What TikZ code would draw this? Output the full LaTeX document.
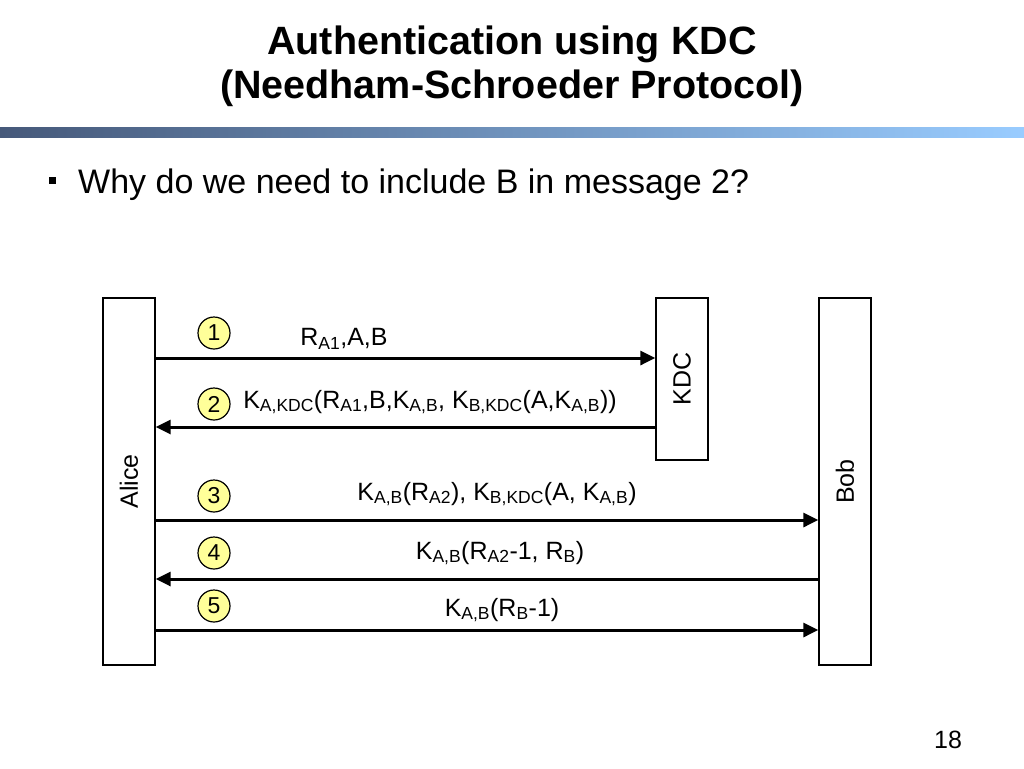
\documentclass[tikz,border=0pt]{standalone}
\usepackage{fontspec}
\setmainfont{Liberation Sans}
\usetikzlibrary{positioning,arrows.meta}
\definecolor{barleft}{HTML}{46597A}
\definecolor{barright}{HTML}{99CCFF}
\definecolor{numfill}{HTML}{FFFF99}

\begin{document}
\begin{tikzpicture}[x=1pt,y=-1pt,
    party/.style={draw, line width=1.3pt, minimum width=52pt, inner sep=0pt, font=\fontsize{25}{30}\selectfont},
    msg/.style={line width=3pt, -{Triangle[length=15pt,width=14pt]}},
    numcircle/.style={draw, circle, fill=numfill, line width=1.2pt, minimum size=32pt, inner sep=0pt, font=\fontsize{23}{28}\selectfont},
    msglabel/.style={font=\fontsize{25}{30}\selectfont, inner sep=0pt}]
        \useasboundingbox (0,0) rectangle (1024,768);
        % title
        \node[font=\bfseries\fontsize{39.5}{44}\selectfont, align=center] (title) at (512,66) {Authentication using KDC\\(Needham-Schroeder Protocol)};
        \shade[left color=barleft, right color=barright] (0,127) rectangle (1024,137);
        \fill (49,177) rectangle (56,184);
        \node[anchor=base west, font=\fontsize{34}{40}\selectfont, inner sep=0pt] (question) at (78,193) {Why do we need to include B in message 2?};
        % parties
        \node[party, minimum height=367pt] (alice) at (129,481.5) {\rotatebox{90}{Alice}};
        \node[party, minimum height=162pt] (kdc) at (682,379) {\rotatebox{90}{KDC}};
        \node[party, minimum height=367pt] (bob) at (845,481.5) {\rotatebox{90}{Bob}};
        % message heights
        \coordinate (m1) at (0,358);
        \coordinate (m2) at (0,427);
        \coordinate (m3) at (0,520);
        \coordinate (m4) at (0,579);
        \coordinate (m5) at (0,630);
        \draw[msg] (alice.east |- m1) -- (kdc.west |- m1);
        \draw[msg] (kdc.west |- m2) -- (alice.east |- m2);
        \draw[msg] (alice.east |- m3) -- (bob.west |- m3);
        \draw[msg] (bob.west |- m4) -- (alice.east |- m4);
        \draw[msg] (alice.east |- m5) -- (bob.west |- m5);
        % step numbers
        \node[numcircle] (n1) at (214,333) {1};
        \node[numcircle] (n2) at (214,404) {2};
        \node[numcircle] (n3) at (214,496) {3};
        \node[numcircle] (n4) at (214,553) {4};
        \node[numcircle] (n5) at (214,606) {5};
        % message contents
        \node[msglabel] (l1) at (344,339) {R\textsubscript{A1},A,B};
        \node[msglabel] (l2) at (430,402) {K\textsubscript{A,KDC}(R\textsubscript{A1},B,K\textsubscript{A,B}, K\textsubscript{B,KDC}(A,K\textsubscript{A,B}))};
        \node[msglabel] (l3) at (497,494) {K\textsubscript{A,B}(R\textsubscript{A2}), K\textsubscript{B,KDC}(A, K\textsubscript{A,B})};
        \node[msglabel] (l4) at (500,553) {K\textsubscript{A,B}(R\textsubscript{A2}-1, R\textsubscript{B})};
        \node[msglabel] (l5) at (502,610) {K\textsubscript{A,B}(R\textsubscript{B}-1)};
        \node[msglabel] (page) at (948,740) {18};
\end{tikzpicture}
\end{document}
